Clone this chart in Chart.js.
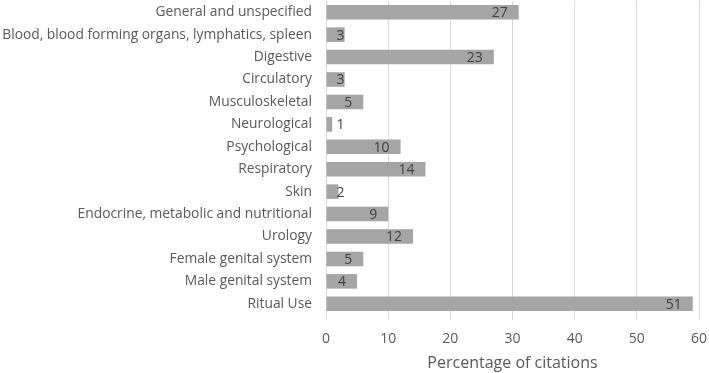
<!DOCTYPE html>
<html>
<head>
<meta charset="utf-8">
<script src="https://cdn.jsdelivr.net/npm/chart.js@4"></script>
<style>
  html, body { margin: 0; padding: 0; background: #fff; }
  #wrap { width: 709px; height: 373px; }
</style>
</head>
<body>
<div id="wrap"><canvas id="chart"></canvas></div>
<script>
const categories = [
    "General and unspecified",
    "Blood, blood forming organs, lymphatics, spleen",
    "Digestive",
    "Circulatory",
    "Musculoskeletal",
    "Neurological",
    "Psychological",
    "Respiratory",
    "Skin",
    "Endocrine, metabolic and nutritional",
    "Urology",
    "Female genital system",
    "Male genital system",
    "Ritual Use"
];
// bar length = percentage of citations
const percentages = [31, 3, 27, 3, 6, 1, 12, 16, 2, 10, 14, 6, 5, 59];
// number printed on each bar = citation count
const counts = [27, 3, 23, 3, 5, 1, 10, 14, 2, 9, 12, 5, 4, 51];
const xTicks = [0, 10, 20, 30, 40, 50, 60];

const FONT = "'Open Sans', 'Noto Sans', sans-serif";

// count labels at the inside end of each bar
const countLabels = {
    id: "countLabels",
    afterDatasetsDraw(chart) {
        const c = chart.ctx;
        const meta = chart.getDatasetMeta(0);
        c.save();
        c.font = "14px " + FONT;
        c.fillStyle = "#404040";
        c.textBaseline = "middle";
        c.textAlign = "left";
        meta.data.forEach((bar, i) => {
            const txt = String(counts[i]);
            const w = c.measureText(txt).width;
            const x = Math.max(bar.x - 11 - w, bar.base + 10);
            c.fillText(txt, x, bar.y + 1);
        });
        c.restore();
    }
};

new Chart(document.getElementById("chart"), {
    type: "bar",
    data: {
        labels: categories,
        datasets: [{
            data: percentages,
            backgroundColor: "#a5a5a5",
            borderWidth: 0,
            barPercentage: 0.65,
            categoryPercentage: 1
        }]
    },
    options: {
        indexAxis: "y",
        responsive: true,
        maintainAspectRatio: false,
        animation: false,
        layout: { padding: { top: 1, right: 10, bottom: 0, left: 0 } },
        plugins: {
            legend: { display: false },
            tooltip: { enabled: false }
        },
        scales: {
            x: {
                min: 0,
                max: 60,
                afterBuildTicks: s => { s.ticks = xTicks.map(v => ({ value: v })); },
                grid: { color: "#d9d9d9", tickLength: 5, drawTicks: true },
                border: { display: false },
                ticks: { color: "#595959", font: { family: FONT, size: 14 }, padding: 11 },
                title: {
                    display: true,
                    text: "Percentage of citations",
                    color: "#595959",
                    font: { family: FONT, size: 16 },
                    padding: { top: 2, bottom: 0 }
                },
                afterFit: s => {
                    s.height = 58;
                    s.paddingLeft = 0;
                    s.paddingRight = 0;
                }
            },
            y: {
                grid: { display: false, drawTicks: false },
                border: { display: true, color: "#d9d9d9" },
                ticks: { color: "#595959", font: { family: FONT, size: 13.8 }, padding: 14, autoSkip: false },
                afterFit: s => {
                    s.width = 326;
                    s.paddingTop = 0;
                    s.paddingBottom = 0;
                }
            }
        }
    },
    plugins: [countLabels]
});
</script>
</body>
</html>
